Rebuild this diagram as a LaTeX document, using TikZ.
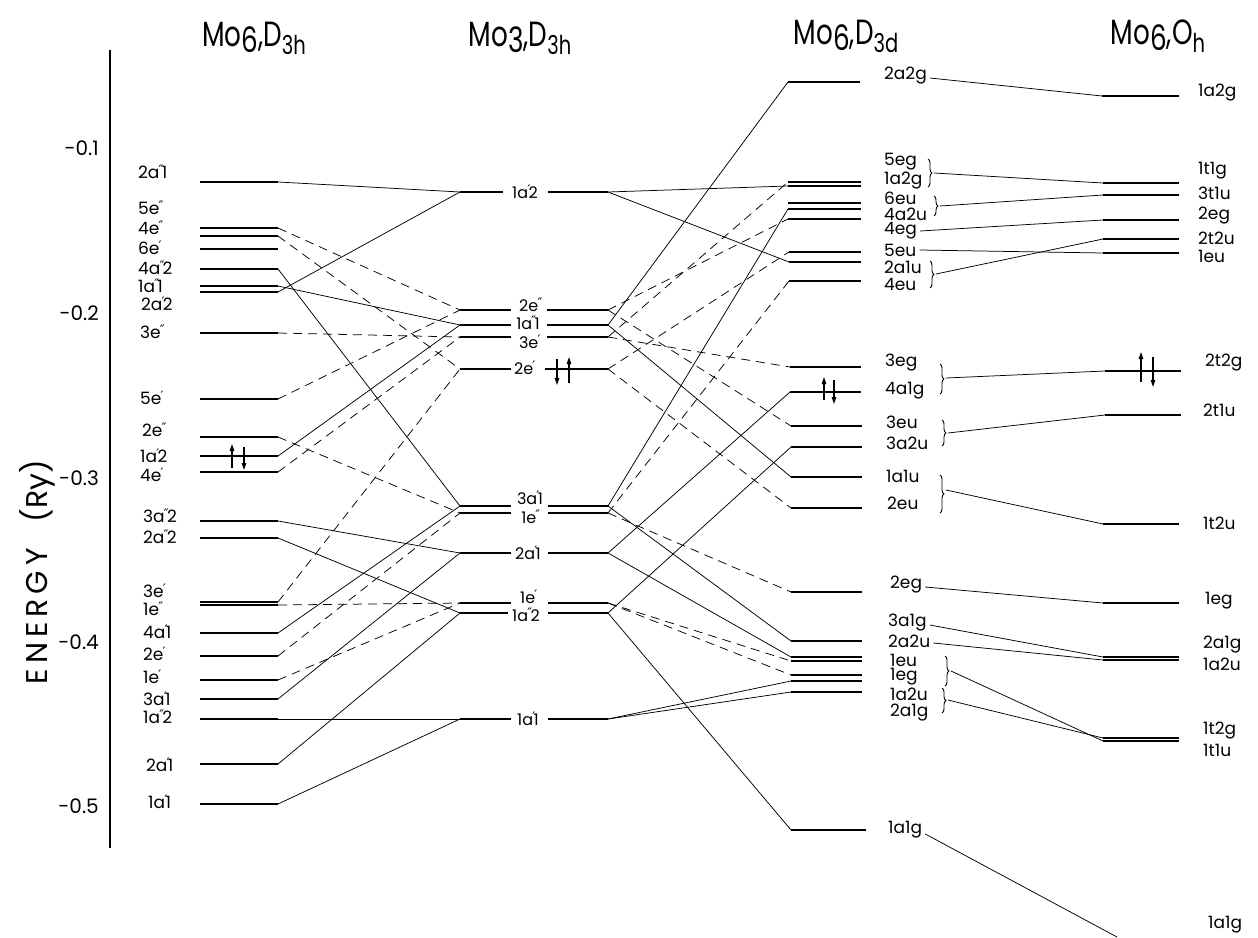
\documentclass[tikz,border=0pt]{standalone}
\usepackage{fontspec}
\setmainfont{Poppins}
\newfontfamily\djv{DejaVu Sans}
\newfontfamily\headf[FakeStretch=0.75]{Poppins}
\usetikzlibrary{arrows.meta,decorations.pathreplacing}
\newcommand\sgl{\kern-0.05em\raisebox{0.4ex}{\djv\fontsize{13}{13}\selectfont ′}\kern-0.1em}
\newcommand\dbl{\kern-0.05em\raisebox{0.4ex}{\djv\fontsize{13}{13}\selectfont ″}\kern-0.1em}
\newcommand\lvl[4]{\coordinate (#1L) at (#2,#4);\coordinate (#1R) at (#3,#4);\draw[lev] (#1L) -- (#1R);}
\newcommand\lvlg[7]{\coordinate (#1L) at (460,#2);\coordinate (#1R) at (608,#2);\draw[lev] (#1L) -- (#3,#2) (#4,#2) -- (#1R);\node[labm] (l#1) at (#5,#6) {#7};}
\begin{document}
\begin{tikzpicture}[x=1pt,y=-1pt,
 lev/.style={line width=2.8pt},
 con/.style={line width=0.75pt},
 dcon/.style={con,dash pattern=on 9pt off 6pt},
 lab/.style={font=\fontsize{17}{17}\selectfont, inner sep=0pt},
 labm/.style={font=\fontsize{16}{16}\selectfont, inner sep=0pt},
 axl/.style={font=\fontsize{20}{20}\selectfont, inner sep=1pt, anchor=east},
 head/.style={font=\headf\fontsize{35}{35}\selectfont, inner sep=0pt},
 spin/.style={line width=1.2pt, -{Triangle[length=7pt,width=4.5pt]}},
 brc/.style={decorate, decoration={brace,amplitude=4pt}, line width=0.9pt}]
\fill[white] (0,0) rectangle (1258,937);
\useasboundingbox (0,0) rectangle (1258,937);

% headings
\node[head] (h1) at (254,38) {Mo\raisebox{-6pt}{6},D\raisebox{-8pt}{\fontsize{26}{26}\selectfont 3h}};
\node[head] (h2) at (520,38) {Mo\raisebox{-6pt}{3},D\raisebox{-8pt}{\fontsize{26}{26}\selectfont 3h}};
\node[head] (h3) at (846,36) {Mo\raisebox{-6pt}{6},D\raisebox{-8pt}{\fontsize{26}{26}\selectfont 3d}};
\node[head] (h4) at (1158,36) {Mo\raisebox{-6pt}{6},O\raisebox{-8pt}{\fontsize{26}{26}\selectfont h}};

% axis
\coordinate (ax1) at (110,50); \coordinate (ax2) at (110,848);
\draw[line width=1.8pt] (ax1) -- (ax2);
\node[axl] (t1) at (100,148) {-0.1};
\node[axl] (t2) at (100,313) {-0.2};
\node[axl] (t3) at (100,478) {-0.3};
\node[axl] (t4) at (100,642) {-0.4};
\node[axl] (t5) at (100,806) {-0.5};
\node[font=\fontsize{30}{30}\selectfont, rotate=90, inner sep=0pt] (en) at (37,572) {E\,N\,E\,R\,G\,Y\hspace{26pt}(Ry)};

% column 1 : Mo6 D3h
\lvl{A1}{200}{278}{182}
\lvl{A2}{200}{278}{228}
\lvl{A3}{200}{278}{236}
\lvl{A4}{200}{278}{249}
\lvl{A5}{200}{278}{269}
\lvl{A6}{200}{278}{286}
\lvl{A7}{200}{278}{292}
\lvl{A8}{200}{278}{333}
\lvl{A9}{200}{278}{399}
\lvl{A10}{200}{278}{437}
\lvl{A11}{200}{278}{456}
\lvl{A12}{200}{278}{472}
\lvl{A13}{200}{278}{521}
\lvl{A14}{200}{278}{538}
\lvl{A15}{200}{278}{602}
\lvl{A16}{200}{278}{605}
\lvl{A17}{200}{278}{633}
\lvl{A18}{200}{278}{656}
\lvl{A19}{200}{278}{680}
\lvl{A20}{200}{278}{699}
\lvl{A21}{200}{278}{719}
\lvl{A22}{200}{278}{764}
\lvl{A23}{200}{278}{804}
\begin{scope}[every node/.style={lab,anchor=west}]
\node (lA1) at (138,172) {2a\dbl 1};
\node (lA2) at (138,208) {5e\dbl};
\node (lA3) at (138,228) {4e\dbl};
\node (lA4) at (138,248) {6e\sgl};
\node (lA5) at (138,268) {4a\dbl 2};
\node (lA6) at (138,286) {1a\dbl 1};
\node (lA7) at (141,304) {2a\sgl 2};
\node (lA8) at (140,332) {3e\dbl};
\node (lA9) at (140,398) {5e\sgl};
\node (lA10) at (142,430) {2e\dbl};
\node (lA11) at (140,456) {1a\sgl 2};
\node (lA12) at (140,475) {4e\sgl};
\node (lA13) at (143,516) {3a\dbl 2};
\node (lA14) at (143,537) {2a\dbl 2};
\node (lA15) at (143,591) {3e\sgl};
\node (lA16) at (143,609) {1e\dbl};
\node (lA17) at (143,632) {4a\sgl 1};
\node (lA18) at (143,654) {2e\sgl};
\node (lA19) at (143,677) {1e\sgl};
\node (lA20) at (143,699) {3a\sgl 1};
\node (lA21) at (143,717) {1a\dbl 2};
\node (lA22) at (146,765) {2a\sgl 1};
\node (lA23) at (148,802) {1a\sgl 1};
\end{scope}
\draw[spin] (232,468) -- (232,444);
\draw[spin] (244,447) -- (244,470);

% column 2 : Mo3 D3h
\lvlg{B1}{192}{503}{548}{525}{192}{1a\sgl 2}
\lvlg{B2}{310}{511}{547}{530}{305}{2e\dbl}
\lvlg{B3}{325}{511}{547}{528}{323}{1a\dbl 1}
\lvlg{B4}{337}{511}{547}{529}{342}{3e\sgl}
\lvlg{B5}{369}{511}{545}{524}{368}{2e\sgl}
\lvlg{B6}{506}{511}{548}{530}{498}{3a\sgl 1}
\lvlg{B7}{513}{511}{548}{530}{517}{1e\dbl}
\lvlg{B8}{553}{511}{548}{528}{553}{2a\sgl 1}
\lvlg{B9}{603}{511}{548}{528}{597}{1e\sgl}
\lvlg{B10}{613}{508}{548}{526}{615}{1a\dbl 2}
\lvlg{B11}{719}{511}{548}{528}{719}{1a\sgl 1}
\draw[spin] (557,359) -- (557,385);
\draw[spin] (569,383) -- (569,357);

% column 3 : Mo6 D3d
\lvl{C1}{788}{860}{82}
\lvl{C2}{788}{861}{182}
\lvl{C3}{788}{861}{186}
\lvl{C4}{788}{861}{203}
\lvl{C5}{788}{861}{209}
\lvl{C6}{788}{861}{219}
\lvl{C7}{789}{861}{252}
\lvl{C8}{789}{861}{262}
\lvl{C9}{789}{861}{281}
\lvl{C10}{790}{861}{367}
\lvl{C11}{790}{861}{392}
\lvl{C12}{791}{862}{426}
\lvl{C13}{791}{862}{447}
\lvl{C14}{791}{862}{477}
\lvl{C15}{791}{862}{508}
\lvl{C16}{791}{862}{592}
\lvl{C17}{791}{862}{641}
\lvl{C18}{791}{862}{657}
\lvl{C19}{791}{862}{661}
\lvl{C20}{791}{862}{675}
\lvl{C21}{791}{862}{681}
\lvl{C22}{791}{862}{692}
\lvl{C23}{791}{866}{830}
\begin{scope}[every node/.style={lab,anchor=west}]
\node (lC1) at (884,76) {2a2g};
\node (lC2) at (884,162) {5eg};
\node (lC3) at (884,181) {1a2g};
\node (lC4) at (884,198) {6eu};
\node (lC5) at (884,214) {4a2u};
\node (lC6) at (884,231) {4eg};
\node (lC7) at (884,250) {5eu};
\node (lC8) at (884,267) {2a1u};
\node (lC9) at (884,284) {4eu};
\node (lC10) at (885,363) {3eg};
\node (lC11) at (885,391) {4a1g};
\node (lC12) at (886,422) {3eu};
\node (lC13) at (886,443) {3a2u};
\node (lC14) at (886,476) {1a1u};
\node (lC15) at (887,503) {2eu};
\node (lC16) at (890,585) {2eg};
\node (lC17) at (888,623) {3a1g};
\node (lC18) at (888,641) {2a2u};
\node (lC19) at (890,660) {1eu};
\node (lC20) at (890,677) {1eg};
\node (lC21) at (890,694) {1a2u};
\node (lC22) at (890,713) {2a1g};
\node (lC23) at (888,830) {1a1g};
\end{scope}
\draw[spin] (824,400) -- (824,377);
\draw[spin] (834,380) -- (834,404);

% braces in column 3
\coordinate (b1t) at (928,159); \coordinate (b1b) at (928,187); \coordinate (b1) at (934,173);
\coordinate (b2t) at (934,196); \coordinate (b2b) at (934,216); \coordinate (b2) at (940,206);
\coordinate (b3t) at (930,261); \coordinate (b3b) at (930,288); \coordinate (b3) at (936,274);
\coordinate (b4t) at (940,364); \coordinate (b4b) at (940,394); \coordinate (b4) at (946,378);
\coordinate (b5t) at (942,420); \coordinate (b5b) at (942,446); \coordinate (b5) at (948,433);
\coordinate (b6t) at (940,475); \coordinate (b6b) at (940,513); \coordinate (b6) at (946,490);
\coordinate (b7t) at (945,656); \coordinate (b7b) at (945,686); \coordinate (b7) at (951,671);
\coordinate (b8t) at (942,688); \coordinate (b8b) at (942,713); \coordinate (b8) at (948,700);
\foreach \b in {1,...,8} \draw[brc] (b\b t) -- (b\b b);

% column 4 : Mo6 Oh
\lvl{D1}{1102}{1179}{96}
\lvl{D2}{1103}{1179}{183}
\lvl{D3}{1103}{1179}{195}
\lvl{D4}{1103}{1179}{220}
\lvl{D5}{1103}{1179}{239}
\lvl{D6}{1103}{1179}{253}
\lvl{D7}{1105}{1181}{371}
\lvl{D8}{1105}{1181}{415}
\lvl{D9}{1103}{1179}{524}
\lvl{D10}{1103}{1179}{603}
\lvl{D11}{1103}{1179}{657}
\lvl{D12}{1103}{1179}{660}
\lvl{D13}{1103}{1179}{738}
\lvl{D14}{1103}{1179}{741}
\coordinate (Dend) at (1117,937);
\begin{scope}[every node/.style={lab,anchor=west}]
\node (lD1) at (1198,93) {1a2g};
\node (lD2) at (1198,171) {1t1g};
\node (lD3) at (1198,193) {3t1u};
\node (lD4) at (1198,216) {2eg};
\node (lD5) at (1198,238) {2t2u};
\node (lD6) at (1198,256) {1eu};
\node (lD7) at (1205,363) {2t2g};
\node (lD8) at (1203,410) {2t1u};
\node (lD9) at (1203,523) {1t2u};
\node (lD10) at (1205,601) {1eg};
\node (lD11) at (1203,645) {2a1g};
\node (lD12) at (1203,664) {1a2u};
\node (lD13) at (1203,731) {1t2g};
\node (lD14) at (1203,750) {1t1u};
\node (lD15) at (1208,925) {1a1g};
\end{scope}
\draw[spin] (1141,382) -- (1141,352);
\draw[spin] (1153,357) -- (1153,387);

% connectors column 1 -> column 2
\draw[con] (A1R) -- (B1L);
\draw[dcon] (A2R) -- (B2L);
\draw[dcon] (A3R) -- (B5L);
\draw[con] (A5R) -- (B6L);
\draw[con] (A6R) -- (B3L);
\draw[con] (A7R) -- (B1L);
\draw[dcon] (A8R) -- (B4L);
\draw[dcon] (A9R) -- (B2L);
\draw[dcon] (A10R) -- (B7L);
\draw[con] (A11R) -- (B3L);
\draw[dcon] (A12R) -- (B4L);
\draw[con] (A13R) -- (B8L);
\draw[con] (A14R) -- (B10L);
\draw[dcon] (A15R) -- (B5L);
\draw[dcon] (A16R) -- (B9L);
\draw[con] (A17R) -- (B6L);
\draw[dcon] (A18R) -- (B7L);
\draw[dcon] (A19R) -- (B9L);
\draw[con] (A20R) -- (B8L);
\draw[con] (A21R) -- (B11L);
\draw[con] (A22R) -- (B10L);
\draw[con] (A23R) -- (B11L);

% connectors column 2 -> column 3
\draw[con] (B1R) -- (C3L);
\draw[con] (B1R) -- (C8L);
\draw[dcon] (B2R) -- (C12L);
\draw[dcon] (B2R) -- (C6L);
\draw[con] (B3R) -- (C1L);
\draw[con] (B3R) -- (C14L);
\draw[dcon] (B4R) -- (C10L);
\draw[dcon] (B4R) -- (C2L);
\draw[dcon] (B5R) -- (C15L);
\draw[dcon] (B5R) -- (C7L);
\draw[con] (B6R) -- (C5L);
\draw[con] (B6R) -- (C17L);
\draw[dcon] (B7R) -- (C9L);
\draw[dcon] (B7R) -- (C16L);
\draw[con] (B8R) -- (C11L);
\draw[con] (B8R) -- (C18L);
\draw[dcon] (B9R) -- (C19L);
\draw[dcon] (B9R) -- (C20L);
\draw[con] (B10R) -- (C13L);
\draw[con] (B10R) -- (C23L);
\draw[con] (B11R) -- (C21L);
\draw[con] (B11R) -- (C22L);

% connectors column 3 -> column 4
\draw[con] (lC1.east) ++(3,2) -- (D1L);
\draw[con] (b1) -- (D2L);
\draw[con] (b2) -- (D3L);
\draw[con] (lC6.east) ++(3,0) -- (D4L);
\draw[con] (b3) -- (D5L);
\draw[con] (lC7.east) ++(3,0) -- (D6L);
\draw[con] (b4) -- (D7L);
\draw[con] (b5) -- (D8L);
\draw[con] (b6) -- (D9L);
\draw[con] (lC16.east) ++(3,2) -- (D10L);
\draw[con] (lC17.east) ++(3,2) -- (D11L);
\draw[con] (lC18.east) ++(3,2) -- (D12L);
\draw[con] (b7) -- (D14L);
\draw[con] (b8) -- (D13L);
\draw[con] (lC23.east) ++(3,4) -- (Dend);
\end{tikzpicture}
\end{document}
